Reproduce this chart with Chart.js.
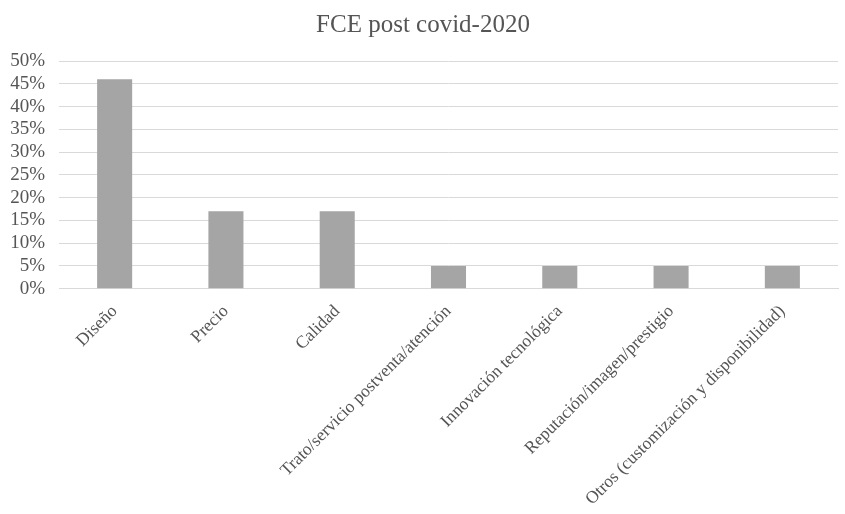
<!DOCTYPE html>
<html>
<head>
<meta charset="utf-8">
<script src="https://cdn.jsdelivr.net/npm/chart.js@4/dist/chart.umd.min.js"></script>
<style>
  html, body { margin: 0; padding: 0; background: #ffffff; }
  #wrap { width: 845px; height: 514px; }
</style>
</head>
<body>
<div id="wrap"><canvas id="c"></canvas></div>
<script>
// Factores clave de éxito (FCE) tras la covid-2020
const categories = [
  'Diseño',
  'Precio',
  'Calidad',
  'Trato/servicio postventa/atención',
  'Innovación tecnológica',
  'Reputación/imagen/prestigio',
  'Otros (customización y disponibilidad)'
];
const shares = [46, 17, 17, 5, 5, 5, 5];
const yTicks = [0, 5, 10, 15, 20, 25, 30, 35, 40, 45, 50];

const serif = "'Liberation Serif', 'Times New Roman', serif";
const textColor = '#555555';

new Chart(document.getElementById('c'), {
  type: 'bar',
  data: {
    labels: categories,
    datasets: [{
      data: shares,
      backgroundColor: '#a5a5a5',
      borderWidth: 0,
      categoryPercentage: 1,
      barPercentage: 0.315
    }]
  },
  options: {
    responsive: true,
    maintainAspectRatio: false,
    animation: false,
    layout: { padding: { left: 8, right: 7, top: 10, bottom: 0 } },
    plugins: {
      legend: { display: false },
      tooltip: { enabled: false },
      title: {
        display: true,
        text: 'FCE post covid-2020',
        color: textColor,
        font: { family: serif, size: 25, weight: 'normal' },
        padding: { top: 0, bottom: 21 }
      }
    },
    scales: {
      x: {
        grid: { display: false },
        border: { display: true, color: '#d9d9d9', width: 1 },
        ticks: {
          color: textColor,
          font: { family: serif, size: 17.5 },
          minRotation: 45,
          maxRotation: 45,
          autoSkip: false,
          padding: 4.5
        }
      },
      y: {
        min: 0,
        max: 50,
        afterBuildTicks: (axis) => { axis.ticks = yTicks.map(v => ({ value: v })); },
        // fixed axis band: the plot starts ~59px from the left edge
        afterFit: (axis) => { axis.width = 51; },
        grid: { color: '#d9d9d9', lineWidth: 1, drawTicks: false },
        border: { display: false },
        ticks: {
          color: textColor,
          font: { family: serif, size: 19 },
          padding: 14,
          autoSkip: false,
          callback: (v) => v + '%'
        }
      }
    }
  }
});
</script>
</body>
</html>
